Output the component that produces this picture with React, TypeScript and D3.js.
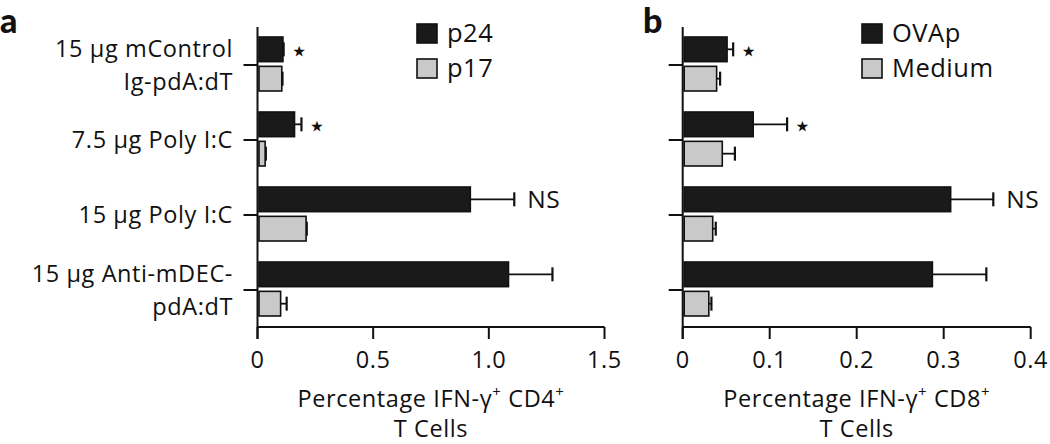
import React from "react";
import * as d3 from "d3";

const categories = ["15 µg mControl\nIg-pdA:dT", "7.5 µg Poly I:C", "15 µg Poly I:C", "15 µg Anti-mDEC-\npdA:dT"];

const seriesA = ["p24", "p17"];
const p24 = [0.11, 0.16, 0.92, 1.085];
const p24Err = [0.003, 0.03, 0.19, 0.19];
const p17 = [0.105, 0.033, 0.21, 0.1];
const p17Err = [0.003, 0.003, 0.003, 0.026];
const annotA = ["⋆", "⋆", "NS", ""];
const ticksA = [0, 0.5, 1.0, 1.5];
const tickLabelsA = ["0", "0.5", "1.0", "1.5"];

const seriesB = ["OVAp", "Medium"];
const ovap = [0.051, 0.081, 0.308, 0.287];
const ovapErr = [0.007, 0.039, 0.049, 0.062];
const medium = [0.039, 0.0455, 0.0345, 0.03];
const mediumErr = [0.004, 0.0145, 0.0035, 0.003];
const annotB = ["⋆", "⋆", "NS", ""];
const ticksB = [0, 0.1, 0.2, 0.3, 0.4];
const tickLabelsB = ["0", "0.1", "0.2", "0.3", "0.4"];

const FONT = "'Open Sans', Lato, sans-serif";
const DARK = "#1a1a1a";
const LIGHT = "#c9c9c9";
const FS = 23.5;
const LS = 0.6;

type PanelProps = {
  letter: string;
  x0: number;
  x1: number;
  max: number;
  series: string[];
  vals: number[][];
  errs: number[][];
  annot: string[];
  ticks: number[];
  tickLabels: string[];
  titleMain: string;
  titleCell: string;
  legendX: number;
  letterX: number;
  showCats: boolean;
};

function Panel(p: PanelProps) {
  const x = d3.scaleLinear().domain([0, p.max]).range([p.x0, p.x1]);
  const y = d3.scaleBand<string>().domain(categories).range([27.5, 327.5]).padding(0);
  const inner = d3.scaleBand<string>().domain(p.series).range([-28, 26]).paddingInner(0.16);
  const axisY = 327;
  const fills = [DARK, LIGHT];
  const cx = (p.x0 + p.x1) / 2;
  return (
    <g>
      <text x={p.letterX} y={33} fontFamily="Lato, 'Open Sans', sans-serif" fontWeight={900} fontSize={34} fill="#111">
        {p.letter}
      </text>
      {categories.map((c, i) => {
        const center = y(c)! + y.bandwidth() / 2;
        return (
          <g key={c}>
            {p.series.map((s, j) => {
              const top = center + inner(s)!;
              const h = inner.bandwidth();
              const v = p.vals[j][i];
              const e = p.errs[j][i];
              const mid = top + h / 2;
              return (
                <g key={s}>
                  <line x1={x(v)} x2={x(v + e)} y1={mid} y2={mid} stroke="#111" strokeWidth={1.8} />
                  <line x1={x(v + e)} x2={x(v + e)} y1={mid - 7} y2={mid + 7} stroke="#111" strokeWidth={2.2} />
                  <rect x={p.x0 + 1.5} y={top} width={x(v) - p.x0 - 1.5} height={h} fill={fills[j]} stroke="#111" strokeWidth={1.6} />
                </g>
              );
            })}
            {p.annot[i] && (
              <text
                x={x(p.vals[0][i] + p.errs[0][i]) + (p.annot[i] === "NS" ? 13 : 6)}
                y={center + inner(p.series[0])! + inner.bandwidth() / 2}
                dy={p.annot[i] === "NS" ? "0.36em" : "0.4em"}
                fontFamily={p.annot[i] === "NS" ? FONT : "'DejaVu Sans', sans-serif"}
                fontSize={p.annot[i] === "NS" ? FS + 1 : 30}
                letterSpacing={p.annot[i] === "NS" ? LS : 0}
                fill="#111"
              >
                {p.annot[i]}
              </text>
            )}
            <line x1={p.x0 - 14} x2={p.x0} y1={center} y2={center} stroke="#111" strokeWidth={2} />
            {p.showCats &&
              c.split("\n").map((line, k, arr) => (
                <text
                  key={k}
                  x={233}
                  y={arr.length === 1 ? center + 8 : center - 8 + k * 33}
                  textAnchor="end"
                  fontFamily={FONT}
                  fontSize={FS}
                  letterSpacing={LS}
                  fill="#111"
                >
                  {line}
                </text>
              ))}
          </g>
        );
      })}
      <line x1={p.x0} x2={p.x0} y1={27} y2={339} stroke="#111" strokeWidth={2} />
      <line x1={p.x0} x2={p.x1} y1={axisY} y2={axisY} stroke="#111" strokeWidth={2} />
      {p.ticks.map((t, i) => (
        <g key={t}>
          <line x1={x(t)} x2={x(t)} y1={axisY} y2={339} stroke="#111" strokeWidth={2} />
          <text x={x(t)} y={368} textAnchor="middle" fontFamily={FONT} fontSize={FS} letterSpacing={LS} fill="#111">
            {p.tickLabels[i]}
          </text>
        </g>
      ))}
      <text x={cx} y={407} textAnchor="middle" fontFamily={FONT} fontSize={FS} letterSpacing={LS} fill="#111">
        <tspan>Percentage IFN-γ</tspan>
        <tspan dy={-10} fontSize={15}>+</tspan>
        <tspan dy={10}> {p.titleCell}</tspan>
        <tspan dy={-10} fontSize={15}>+</tspan>
      </text>
      <text x={cx} y={437} textAnchor="middle" fontFamily={FONT} fontSize={FS} letterSpacing={LS} fill="#111">
        {p.titleMain}
      </text>
      {p.series.map((s, j) => (
        <g key={s}>
          <rect x={p.legendX} y={24 + j * 35} width={20} height={19} fill={fills[j]} stroke="#111" strokeWidth={1.6} />
          <text x={p.legendX + 30} y={42 + j * 35} fontFamily={FONT} fontSize={25.5} letterSpacing={0.5} fill="#111">
            {s}
          </text>
        </g>
      ))}
    </g>
  );
}

export default function App() {
  return (
    <svg
      width={1050}
      height={444}
      style={{ position: "absolute", left: 0, top: 0, background: "#fff" }}
    >
      <Panel
        letter="a"
        letterX={0}
        x0={257.5}
        x1={604.5}
        max={1.5}
        series={seriesA}
        vals={[p24, p17]}
        errs={[p24Err, p17Err]}
        annot={annotA}
        ticks={ticksA}
        tickLabels={tickLabelsA}
        titleMain="T Cells"
        titleCell="CD4"
        legendX={417}
        showCats={true}
      />
      <Panel
        letter="b"
        letterX={643}
        x0={682.7}
        x1={1030.7}
        max={0.4}
        series={seriesB}
        vals={[ovap, medium]}
        errs={[ovapErr, mediumErr]}
        annot={annotB}
        ticks={ticksB}
        tickLabels={tickLabelsB}
        titleMain="T Cells"
        titleCell="CD8"
        legendX={862}
        showCats={false}
      />
    </svg>
  );
}
